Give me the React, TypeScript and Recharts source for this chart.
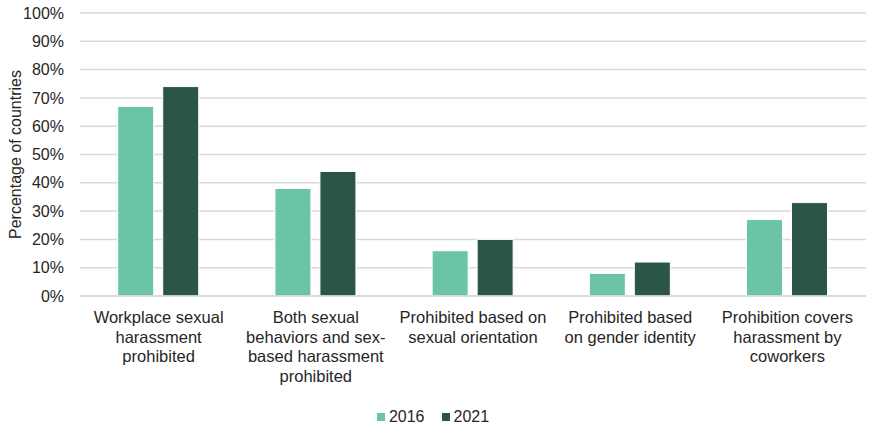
import React from "react";
import { BarChart, Bar, XAxis, YAxis, CartesianGrid, Legend, Label } from "recharts";

const categories = [
  "Workplace sexual\nharassment\nprohibited",
  "Both sexual\nbehaviors and sex-\nbased harassment\nprohibited",
  "Prohibited based on\nsexual orientation",
  "Prohibited based\non gender identity",
  "Prohibition covers\nharassment by\ncoworkers",
];
const values2016 = [67, 38, 16, 8, 27];
const values2021 = [74, 44, 20, 12, 33];
const yTicks = [0, 10, 20, 30, 40, 50, 60, 70, 80, 90, 100];

const data = categories.map((c, i) => ({ name: c, y2016: values2016[i], y2021: values2021[i] }));

const FONT = "'Liberation Sans', Arial, sans-serif";
const TEXT = "#262626";
const LIGHT = "#6ac4a5";
const DARK = "#2a5547";

const XTick = (props: any) => {
  const { x, y, payload } = props;
  const lines = String(payload.value).split("\n");
  return (
    <g transform={`translate(${x},${y})`}>
      {lines.map((l: string, i: number) => (
        <text key={i} x={0} y={i * 19.5} dy={13} textAnchor="middle" fill={TEXT} fontSize={16.5} fontFamily={FONT}>
          {l}
        </text>
      ))}
    </g>
  );
};

const LegendContent = () => (
  <div style={{ display: "flex", justifyContent: "center", alignItems: "center", fontFamily: FONT, fontSize: 16, color: TEXT }}>
    <span style={{ display: "inline-block", width: 8, height: 8, background: LIGHT, marginRight: 4 }} />
    <span style={{ marginRight: 17 }}>2016</span>
    <span style={{ display: "inline-block", width: 8, height: 8, background: DARK, marginRight: 4 }} />
    <span>2021</span>
  </div>
);

export default function App() {
  return (
    <div style={{ position: "absolute", left: 0, top: 0, background: "#fff" }}>
      <BarChart
        width={869}
        height={428}
        data={data}
        margin={{ top: 13, right: 3, bottom: 0, left: 0 }}
        barCategoryGap="24%"
        barGap={9}
      >
        <CartesianGrid vertical={false} stroke="#d9d9d9" strokeWidth={1.5} />
        <XAxis
          dataKey="name"
          tick={<XTick />}
          tickLine={false}
          axisLine={{ stroke: "#d9d9d9", strokeWidth: 1.5 }}
          interval={0}
          height={114}
          tickMargin={8}
        />
        <YAxis
          domain={[0, 100]}
          ticks={yTicks}
          tickFormatter={(v: number) => `${v}%`}
          tickLine={false}
          axisLine={false}
          width={80}
          tickMargin={10}
          tick={{ fill: TEXT, fontSize: 16, fontFamily: FONT }}
          interval={0}
        >
          <Label
            value="Percentage of countries"
            angle={-90}
            position="insideLeft"
            offset={15}
            style={{ textAnchor: "middle", fill: TEXT, fontSize: 16, fontFamily: FONT }}
          />
        </YAxis>
        <Legend verticalAlign="bottom" content={<LegendContent />} wrapperStyle={{ bottom: 2 }} />
        <Bar dataKey="y2016" name="2016" fill={LIGHT} stroke="#ffffff" strokeWidth={1} isAnimationActive={false} />
        <Bar dataKey="y2021" name="2021" fill={DARK} stroke="#ffffff" strokeWidth={1} isAnimationActive={false} />
      </BarChart>
    </div>
  );
}
